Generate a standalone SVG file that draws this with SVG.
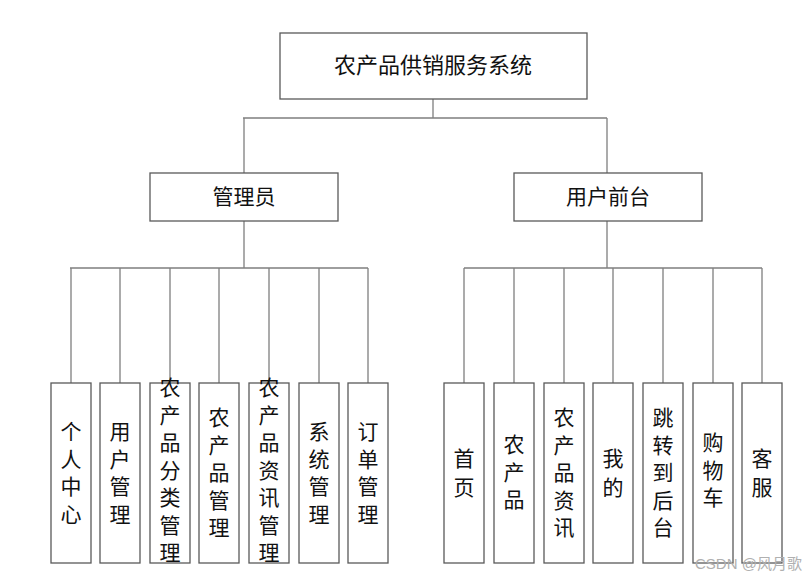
<svg xmlns="http://www.w3.org/2000/svg" width="810" height="581" viewBox="0 0 810 581">
<style>
.box{fill:#fff;stroke:#595959;stroke-width:1.3}
.ln{fill:none;stroke:#7f7f7f;stroke-width:1.3}
.t{font-family:"Noto Sans CJK SC","Noto Sans",sans-serif;fill:#111;text-anchor:middle}
.v{font-size:21px}
.wm{font-family:"Liberation Sans","Noto Sans CJK SC",sans-serif;font-size:15px;fill:#b0b0b0}
</style>
<rect width="810" height="581" fill="#fff"/>
<g id="connectors">
<path class="ln" d="M433 99V118M243 118H607M244 118V173M607 118V173"/>
<path class="ln" d="M244 221V268M70 268H368M71 268V383M120 268V383M170 268V383M219 268V383M269 268V383M319 268V383M368 268V383"/>
<path class="ln" d="M607 221V268M464 268H762M464 268V383M514 268V383M564 268V383M613 268V383M663 268V383M713 268V383M762 268V383"/>
</g>
<g id="root"><rect class="box" x="280" y="33" width="307" height="66"/><text class="t" x="433" y="73" font-size="22">农产品供销服务系统</text></g>
<g id="admin"><rect class="box" x="150" y="173" width="188" height="48"/><text class="t" x="244" y="204" font-size="21">管理员</text></g>
<g id="user"><rect class="box" x="514" y="173" width="188" height="48"/><text class="t" x="608" y="204" font-size="21">用户前台</text></g>
<g id="a1"><rect class="box" x="51" y="383" width="40" height="180"/><text class="t v" x="71" y="439"><tspan x="71">个</tspan><tspan x="71" dy="27.5">人</tspan><tspan x="71" dy="27.5">中</tspan><tspan x="71" dy="27.5">心</tspan></text></g>
<g id="a2"><rect class="box" x="100" y="383" width="40" height="180"/><text class="t v" x="120" y="439"><tspan x="120">用</tspan><tspan x="120" dy="27.5">户</tspan><tspan x="120" dy="27.5">管</tspan><tspan x="120" dy="27.5">理</tspan></text></g>
<g id="a3"><rect class="box" x="150" y="383" width="40" height="180"/><text class="t v" x="170" y="395"><tspan x="170">农</tspan><tspan x="170" dy="27.5">产</tspan><tspan x="170" dy="27.5">品</tspan><tspan x="170" dy="27.5">分</tspan><tspan x="170" dy="27.5">类</tspan><tspan x="170" dy="27.5">管</tspan><tspan x="170" dy="27.5">理</tspan></text></g>
<g id="a4"><rect class="box" x="199" y="383" width="40" height="180"/><text class="t v" x="219" y="425"><tspan x="219">农</tspan><tspan x="219" dy="27.5">产</tspan><tspan x="219" dy="27.5">品</tspan><tspan x="219" dy="27.5">管</tspan><tspan x="219" dy="27.5">理</tspan></text></g>
<g id="a5"><rect class="box" x="249" y="383" width="40" height="180"/><text class="t v" x="269" y="395"><tspan x="269">农</tspan><tspan x="269" dy="27.5">产</tspan><tspan x="269" dy="27.5">品</tspan><tspan x="269" dy="27.5">资</tspan><tspan x="269" dy="27.5">讯</tspan><tspan x="269" dy="27.5">管</tspan><tspan x="269" dy="27.5">理</tspan></text></g>
<g id="a6"><rect class="box" x="299" y="383" width="40" height="180"/><text class="t v" x="319" y="439"><tspan x="319">系</tspan><tspan x="319" dy="27.5">统</tspan><tspan x="319" dy="27.5">管</tspan><tspan x="319" dy="27.5">理</tspan></text></g>
<g id="a7"><rect class="box" x="348" y="383" width="40" height="180"/><text class="t v" x="368" y="439"><tspan x="368">订</tspan><tspan x="368" dy="27.5">单</tspan><tspan x="368" dy="27.5">管</tspan><tspan x="368" dy="27.5">理</tspan></text></g>
<g id="u1"><rect class="box" x="444" y="383" width="40" height="180"/><text class="t v" x="464" y="466"><tspan x="464">首</tspan><tspan x="464" dy="29">页</tspan></text></g>
<g id="u2"><rect class="box" x="494" y="383" width="40" height="180"/><text class="t v" x="514" y="452"><tspan x="514">农</tspan><tspan x="514" dy="27.5">产</tspan><tspan x="514" dy="27.5">品</tspan></text></g>
<g id="u3"><rect class="box" x="544" y="383" width="40" height="180"/><text class="t v" x="564" y="425"><tspan x="564">农</tspan><tspan x="564" dy="27.5">产</tspan><tspan x="564" dy="27.5">品</tspan><tspan x="564" dy="27.5">资</tspan><tspan x="564" dy="27.5">讯</tspan></text></g>
<g id="u4"><rect class="box" x="593" y="383" width="40" height="180"/><text class="t v" x="613" y="466"><tspan x="613">我</tspan><tspan x="613" dy="29">的</tspan></text></g>
<g id="u5"><rect class="box" x="643" y="383" width="40" height="180"/><text class="t v" x="663" y="425"><tspan x="663">跳</tspan><tspan x="663" dy="27.5">转</tspan><tspan x="663" dy="27.5">到</tspan><tspan x="663" dy="27.5">后</tspan><tspan x="663" dy="27.5">台</tspan></text></g>
<g id="u6"><rect class="box" x="693" y="383" width="40" height="180"/><text class="t v" x="713" y="450"><tspan x="713">购</tspan><tspan x="713" dy="27.5">物</tspan><tspan x="713" dy="27.5">车</tspan></text></g>
<g id="u7"><rect class="box" x="742" y="383" width="40" height="180"/><text class="t v" x="762" y="466"><tspan x="762">客</tspan><tspan x="762" dy="29">服</tspan></text></g>
<text class="wm" x="695" y="569">CSDN @风月歌</text>
</svg>
